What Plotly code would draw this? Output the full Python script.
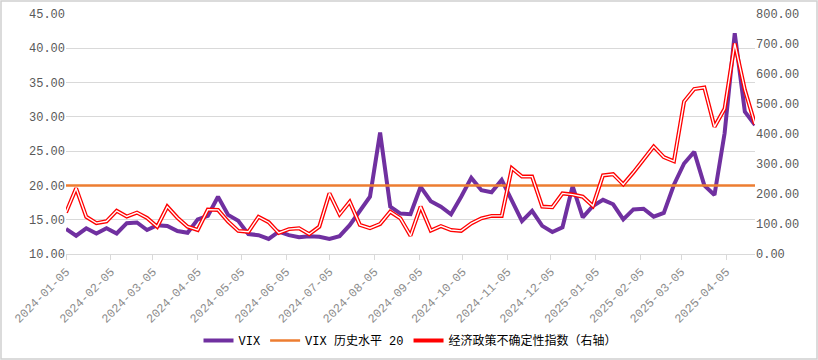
import plotly.graph_objects as go
import pandas as pd

# ---- data ----
dates = pd.date_range("2024-01-05", periods=69, freq="7D").strftime("%Y-%m-%d").tolist()

vix = [13.65, 12.67, 13.75, 13.0, 13.75, 13.0, 14.5, 14.6, 13.5, 14.2,
       14.1, 13.35, 13.1, 15.05, 15.55, 18.35, 15.7, 14.85, 12.9, 12.75,
       12.2, 13.25, 12.75, 12.45, 12.6, 12.5, 12.2, 12.6, 14.2, 16.2,
       18.35, 27.7, 16.9, 15.9, 15.8, 19.8, 17.7, 16.9, 15.8, 18.35,
       21.1, 19.3, 19.0, 20.8, 17.9, 14.8, 16.3, 14.1, 13.2, 13.9,
       19.9, 15.35, 17.0, 17.9, 17.25, 15.05, 16.5, 16.6, 15.45, 16.0,
       20.1, 23.2, 24.9, 20.0, 18.6, 27.6, 42.2, 30.75, 28.8]

epu = [138, 219, 124, 103, 109, 144, 125, 138, 120, 91,
       158, 121, 91, 80, 148, 147, 108, 77, 74, 124,
       106, 70, 83, 86, 66, 91, 202, 132, 174, 97,
       86, 100, 141, 119, 61, 158, 78, 93, 80, 77,
       102, 119, 127, 127, 286, 258, 258, 158, 156, 202,
       198, 191, 160, 262, 266, 232, 272, 316, 358, 323,
       309, 508, 550, 555, 424, 484, 702, 547, 433]

vix_hist_level = 20
hist_line = [vix_hist_level] * len(dates)

tick_dates = ["2024-01-05", "2024-02-05", "2024-03-05", "2024-04-05", "2024-05-05",
              "2024-06-05", "2024-07-05", "2024-08-05", "2024-09-05", "2024-10-05",
              "2024-11-05", "2024-12-05", "2025-01-05", "2025-02-05", "2025-03-05",
              "2025-04-05"]

name_vix = "VIX"
name_hist = "VIX 历史水平 20"
name_epu = "经济政策不确定性指数（右轴）"

# ---- figure ----
W, H = 818, 360
ml, mr, mt, mb = 66, 63, 14, 106
grey = "#595959"
gridc = "#d9d9d9"
mono = "Liberation Mono, DejaVu Sans Mono, monospace"

fig = go.Figure()
fig.add_trace(go.Scatter(x=dates, y=vix, name=name_vix, mode="lines",
                         line=dict(color="#7030A0", width=4)))
fig.add_trace(go.Scatter(x=dates, y=hist_line, name=name_hist, mode="lines",
                         line=dict(color="#ED7D31", width=2.5)))
fig.add_trace(go.Scatter(x=dates, y=epu, name=name_epu, mode="lines", yaxis="y2",
                         line=dict(color="#FF0000", width=4)))
fig.add_trace(go.Scatter(x=dates, y=epu, name=name_epu, mode="lines", yaxis="y2",
                         showlegend=False, line=dict(color="#FFFFFF", width=1.4)))

pw = W - ml - mr
ph = H - mt - mb
fig.add_shape(type="rect", xref="paper", yref="paper",
              x0=(1 - ml) / pw, x1=(W - 1 - ml) / pw,
              y0=-(mb - 1) / ph, y1=1 + (mt - 1) / ph,
              line=dict(color="#d0d0d0", width=1.5), fillcolor="rgba(0,0,0,0)", layer="above")

fig.update_layout(
    width=W, height=H,
    margin=dict(l=ml, r=mr, t=mt, b=mb, autoexpand=False),
    paper_bgcolor="white", plot_bgcolor="white",
    showlegend=True,
    legend=dict(orientation="h", x=0.5, xanchor="center",
                yref="container", y=1 - 340.5 / H, yanchor="middle",
                font=dict(family="Liberation Mono, Noto Sans CJK SC", size=12, color="black"),
                itemwidth=30, bgcolor="rgba(0,0,0,0)"),
    xaxis=dict(type="date", range=[dates[0], dates[-1]], automargin=False,
               tickvals=tick_dates, ticktext=tick_dates, tickangle=-45,
               tickfont=dict(family=mono, size=12, color="#8c8c8c"),
               showgrid=False, showline=True, linecolor=gridc, linewidth=1,
               ticks="outside", ticklen=5, tickcolor=gridc, zeroline=False),
    yaxis=dict(range=[10, 45], dtick=5, tickformat=".2f", automargin=False,
               tickfont=dict(family=mono, size=12, color=grey),
               showgrid=True, gridcolor=gridc, gridwidth=1, zeroline=False,
               showline=False, ticks=""),
    yaxis2=dict(range=[0, 800], dtick=100, tickformat=".2f", overlaying="y", side="right",
                automargin=False,
                tickfont=dict(family=mono, size=12, color=grey),
                showgrid=False, zeroline=False, showline=False, ticks=""),
)

fig.write_html("out.html", config={"displayModeBar": False},
               post_script="document.body.style.margin='0';document.body.style.overflow='hidden';")
